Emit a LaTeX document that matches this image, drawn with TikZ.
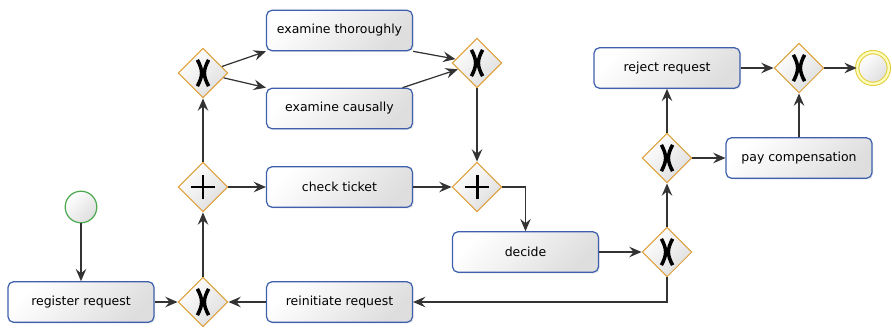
\documentclass[tikz,border=0pt]{standalone}
\usepackage{fontspec}
\setmainfont{DejaVu Sans}
\usepackage{xcolor}
\usepackage{tikz}
\usetikzlibrary{shapes,arrows.meta,positioning,shadows}

\definecolor{taskblue}{RGB}{62,96,172}
\definecolor{gworange}{RGB}{222,160,58}
\definecolor{startgreen}{RGB}{78,170,80}
\definecolor{endyellow}{RGB}{226,206,60}

\tikzset{
  task/.style={draw=taskblue, line width=0.7pt, rounded corners=3pt,
    minimum width=83pt, minimum height=23pt, inner sep=0pt,
    top color=white, bottom color=black!13, shading angle=45,
    drop shadow={opacity=0.15, shadow xshift=0.8pt, shadow yshift=-0.8pt},
    font=\fontsize{7.1}{8.5}\selectfont},
  gateway/.style={diamond, draw=gworange, line width=0.6pt,
    minimum width=28.4pt, minimum height=28.4pt, inner sep=0pt,
    top color=white, bottom color=black!13, shading angle=45},
  xorgw/.style={gateway, path picture={
    \draw[black, line width=2pt, shift={(path picture bounding box.center)}]
      (-3.2pt,7.5pt) .. controls (0pt,1.5pt) and (0pt,-1.5pt) .. (-3.2pt,-7.5pt)
      (3.2pt,7.5pt) .. controls (0pt,1.5pt) and (0pt,-1.5pt) .. (3.2pt,-7.5pt);}},
  andgw/.style={gateway, path picture={
    \draw[black, line width=1.7pt, shift={(path picture bounding box.center)}]
      (-7pt,0pt) -- (7pt,0pt) (0pt,-7pt) -- (0pt,7pt);}},
  flow/.style={->, draw=black!80, line width=0.7pt},
}

\begin{document}
\begin{tikzpicture}[x=0.02cm, y=0.02cm,
    >={Stealth[length=7pt, width=6pt, inset=2.5pt]}]
    \useasboundingbox (0,0) rectangle (892,329);

    % Events
    \node[circle, draw=startgreen, line width=0.7pt, minimum size=18pt,
      top color=white, bottom color=black!13, shading angle=45] (start) at (81,122) {};
    \node[circle, draw=endyellow, double=yellow!25, double distance=1.3pt,
      line width=0.6pt, minimum size=18pt,
      top color=white, bottom color=black!13, shading angle=45] (end) at (873,261) {};

    % Tasks
    \node[task] (register) at (81,27) {register request};
    \node[task] (exth) at (339.5,298.5) {examine thoroughly};
    \node[task] (exca) at (339.5,220.5) {examine causally};
    \node[task] (check) at (339.5,142) {check ticket};
    \node[task] (decide) at (525.5,77) {decide};
    \node[task] (reinit) at (339.5,27) {reinitiate request};
    \node[task] (reject) at (667,261) {reject request};
    \node[task] (pay) at (799,171) {pay compensation};

    % Gateways
    \node[xorgw] (gx0) at (203,27) {};
    \node[andgw] (ga1) at (203,142) {};
    \node[xorgw] (gx1) at (203,256) {};
    \node[xorgw] (gx2) at (477,266) {};
    \node[andgw] (ga2) at (477,142) {};
    \node[xorgw] (gx3) at (667,77) {};
    \node[xorgw] (gx4) at (667,171) {};
    \node[xorgw] (gx5) at (799,261) {};

    % Sequence flows
    \draw[flow] (start) -- (register);
    \draw[flow] (register) -- (gx0);
    \draw[flow] (gx0) -- (ga1);
    \draw[flow] (ga1) -- (gx1);
    \draw[flow] (ga1) -- (check);
    \draw[flow] (gx1) -- (exth.south west);
    \draw[flow] (gx1) -- (exca.north west);
    \draw[flow] (exth.south east) -- (gx2);
    \draw[flow] ([xshift=-6pt]exca.north east) -- (gx2);
    \draw[flow] (gx2) -- (ga2);
    \draw[flow] (check) -- (ga2);
    \draw[flow] (ga2) -| (decide);
    \draw[flow] (decide) -- (gx3);
    \draw[flow] (gx3) -- (gx4);
    \draw[flow] (gx3) |- (reinit);
    \draw[flow] (reinit) -- (gx0);
    \draw[flow] (gx4) -- (reject);
    \draw[flow] (gx4) -- (pay);
    \draw[flow] (reject) -- (gx5);
    \draw[flow] (pay) -- (gx5);
    \draw[flow] (gx5) -- (end);
\end{tikzpicture}
\end{document}
